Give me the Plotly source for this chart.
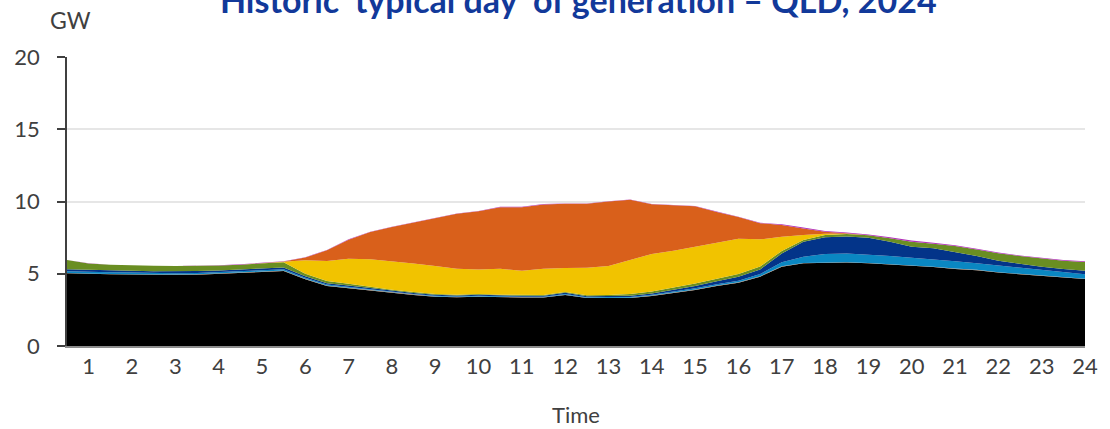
import plotly.graph_objects as go

# Half-hourly intervals across the day (hour ending)
hours = [0.5 * (i + 1) for i in range(48)]

# Average generation by fuel type, GW
coal = [5.03, 4.98, 4.96, 4.94, 4.91, 4.91, 4.93, 4.98, 5.05, 5.12, 5.19, 4.62,
        4.15, 4.00, 3.83, 3.65, 3.53, 3.41, 3.37, 3.41, 3.37, 3.35, 3.35, 3.53,
        3.32, 3.30, 3.32, 3.46, 3.65, 3.88, 4.15, 4.38, 4.80, 5.49, 5.72, 5.77,
        5.77, 5.72, 5.65, 5.54, 5.46, 5.33, 5.24, 5.08, 4.97, 4.85, 4.74, 4.63]
other = [0.03, 0.03, 0.03, 0.03, 0.03, 0.03, 0.03, 0.03, 0.03, 0.03, 0.03, 0.03,
         0.03, 0.03, 0.03, 0.03, 0.02, 0.02, 0.02, 0.02, 0.02, 0.02, 0.02, 0.02,
         0.02, 0.02, 0.02, 0.03, 0.03, 0.03, 0.03, 0.03, 0.03, 0.03, 0.03, 0.03,
         0.03, 0.03, 0.03, 0.03, 0.03, 0.03, 0.03, 0.03, 0.03, 0.03, 0.03, 0.03]
gas = [0.11, 0.11, 0.11, 0.11, 0.10, 0.09, 0.09, 0.09, 0.09, 0.09, 0.09, 0.08,
       0.07, 0.06, 0.05, 0.04, 0.04, 0.04, 0.04, 0.04, 0.04, 0.04, 0.04, 0.05,
       0.04, 0.04, 0.05, 0.05, 0.08, 0.09, 0.10, 0.11, 0.15, 0.28, 0.43, 0.57,
       0.61, 0.59, 0.55, 0.54, 0.51, 0.50, 0.45, 0.45, 0.42, 0.38, 0.33, 0.30]
hydro = [0.14, 0.14, 0.13, 0.13, 0.13, 0.14, 0.14, 0.13, 0.13, 0.12, 0.12, 0.10,
         0.10, 0.09, 0.08, 0.08, 0.07, 0.07, 0.07, 0.07, 0.07, 0.07, 0.07, 0.08,
         0.07, 0.08, 0.09, 0.10, 0.12, 0.16, 0.20, 0.28, 0.32, 0.60, 1.04, 1.15,
         1.17, 1.16, 0.99, 0.76, 0.76, 0.64, 0.51, 0.34, 0.25, 0.23, 0.23, 0.25]
wind = [0.64, 0.45, 0.39, 0.36, 0.38, 0.36, 0.34, 0.34, 0.33, 0.38, 0.37, 0.17,
        0.15, 0.12, 0.10, 0.09, 0.08, 0.06, 0.05, 0.05, 0.05, 0.05, 0.05, 0.06,
        0.07, 0.09, 0.12, 0.14, 0.17, 0.17, 0.17, 0.18, 0.20, 0.18, 0.11, 0.16,
        0.17, 0.16, 0.23, 0.35, 0.32, 0.42, 0.45, 0.52, 0.55, 0.56, 0.57, 0.61]
utility_solar = [0.00, 0.00, 0.00, 0.00, 0.00, 0.00, 0.00, 0.00, 0.00, 0.00, 0.04, 0.93,
                 1.38, 1.74, 1.91, 1.99, 1.97, 1.93, 1.79, 1.70, 1.79, 1.67, 1.81, 1.65,
                 1.89, 2.00, 2.34, 2.59, 2.55, 2.54, 2.52, 2.45, 1.88, 0.98, 0.35, 0.08,
                 0.02, 0.00, 0.00, 0.00, 0.00, 0.00, 0.00, 0.00, 0.00, 0.00, 0.00, 0.00]
rooftop_solar = [0.00, 0.00, 0.00, 0.00, 0.00, 0.00, 0.00, 0.00, 0.00, 0.00, 0.01, 0.19,
                 0.74, 1.32, 1.89, 2.36, 2.82, 3.34, 3.81, 4.04, 4.27, 4.41, 4.46, 4.46,
                 4.44, 4.47, 4.18, 3.44, 3.14, 2.80, 2.11, 1.49, 1.12, 0.82, 0.46, 0.14,
                 0.03, 0.00, 0.00, 0.00, 0.00, 0.00, 0.00, 0.00, 0.00, 0.00, 0.00, 0.00]
battery = [0.01, 0.01, 0.01, 0.01, 0.01, 0.01, 0.01, 0.01, 0.02, 0.02, 0.02, 0.03,
           0.02, 0.02, 0.02, 0.02, 0.02, 0.02, 0.02, 0.02, 0.02, 0.02, 0.02, 0.02,
           0.02, 0.02, 0.02, 0.02, 0.02, 0.02, 0.02, 0.03, 0.03, 0.04, 0.06, 0.06,
           0.06, 0.06, 0.07, 0.08, 0.07, 0.06, 0.05, 0.05, 0.05, 0.05, 0.05, 0.04]

tick_hours = list(range(1, 25))
tick_text = [str(h) for h in tick_hours]

series = [
    ("Coal", coal, "#000000"),
    ("Other", other, "#9a7b62"),
    ("Gas", gas, "#0a87c2"),
    ("Hydro", hydro, "#033489"),
    ("Wind", wind, "#6a8e22"),
    ("Utility solar", utility_solar, "#f1c300"),
    ("Rooftop solar", rooftop_solar, "#d9601b"),
    ("Battery", battery, "#b12fb8"),
]

fig = go.Figure()
for name, values, colour in series:
    fig.add_trace(go.Scatter(
        x=hours, y=values, name=name, mode="lines",
        stackgroup="gen", line=dict(width=0, color=colour),
        fillcolor=colour, hoverinfo="x+y+name",
    ))

font_family = "Lato, 'Open Sans', sans-serif"
text_grey = "#404040"

fig.update_layout(
    width=1110, height=429,
    margin=dict(l=67, r=16, t=57, b=83),
    paper_bgcolor="white", plot_bgcolor="white",
    showlegend=False,
    font=dict(family=font_family, size=22, color=text_grey),
    title=dict(
        text="Historic 'typical day' of generation \u2013 QLD, 2024",
        font=dict(family=font_family, size=34, color="#12399a", weight="bold"),
        x=0.521, xanchor="center", xref="container",
        y=0.997, yanchor="middle", yref="container",
    ),
    xaxis=dict(
        range=[0.5, 24], tickmode="array", tickvals=tick_hours, ticktext=tick_text,
        showgrid=False, zeroline=False, showline=True, linecolor="#8c8c8c",
        linewidth=1.5, ticks="", tickfont=dict(size=22, color=text_grey),
    ),
    yaxis=dict(
        range=[0, 20], tickvals=[0, 5, 10, 15, 20], showgrid=True,
        gridcolor="#e6e6e6", gridwidth=1.5, zeroline=False, showline=True,
        linecolor="#404040", linewidth=1.5, ticks="outside", ticklen=8,
        tickcolor="#404040", tickwidth=1.5, ticklabelstandoff=13,
        tickfont=dict(size=22, color=text_grey),
    ),
    annotations=[
        dict(text="GW", xref="paper", yref="paper", x=-0.0185, y=1.128,
             xanchor="left", yanchor="middle", showarrow=False,
             font=dict(size=23, color=text_grey)),
        dict(text="Time", xref="paper", yref="paper", x=0.5, y=-0.238,
             xanchor="center", yanchor="middle", showarrow=False,
             font=dict(size=22, color=text_grey)),
    ],
)

fig.write_html("out.html")
